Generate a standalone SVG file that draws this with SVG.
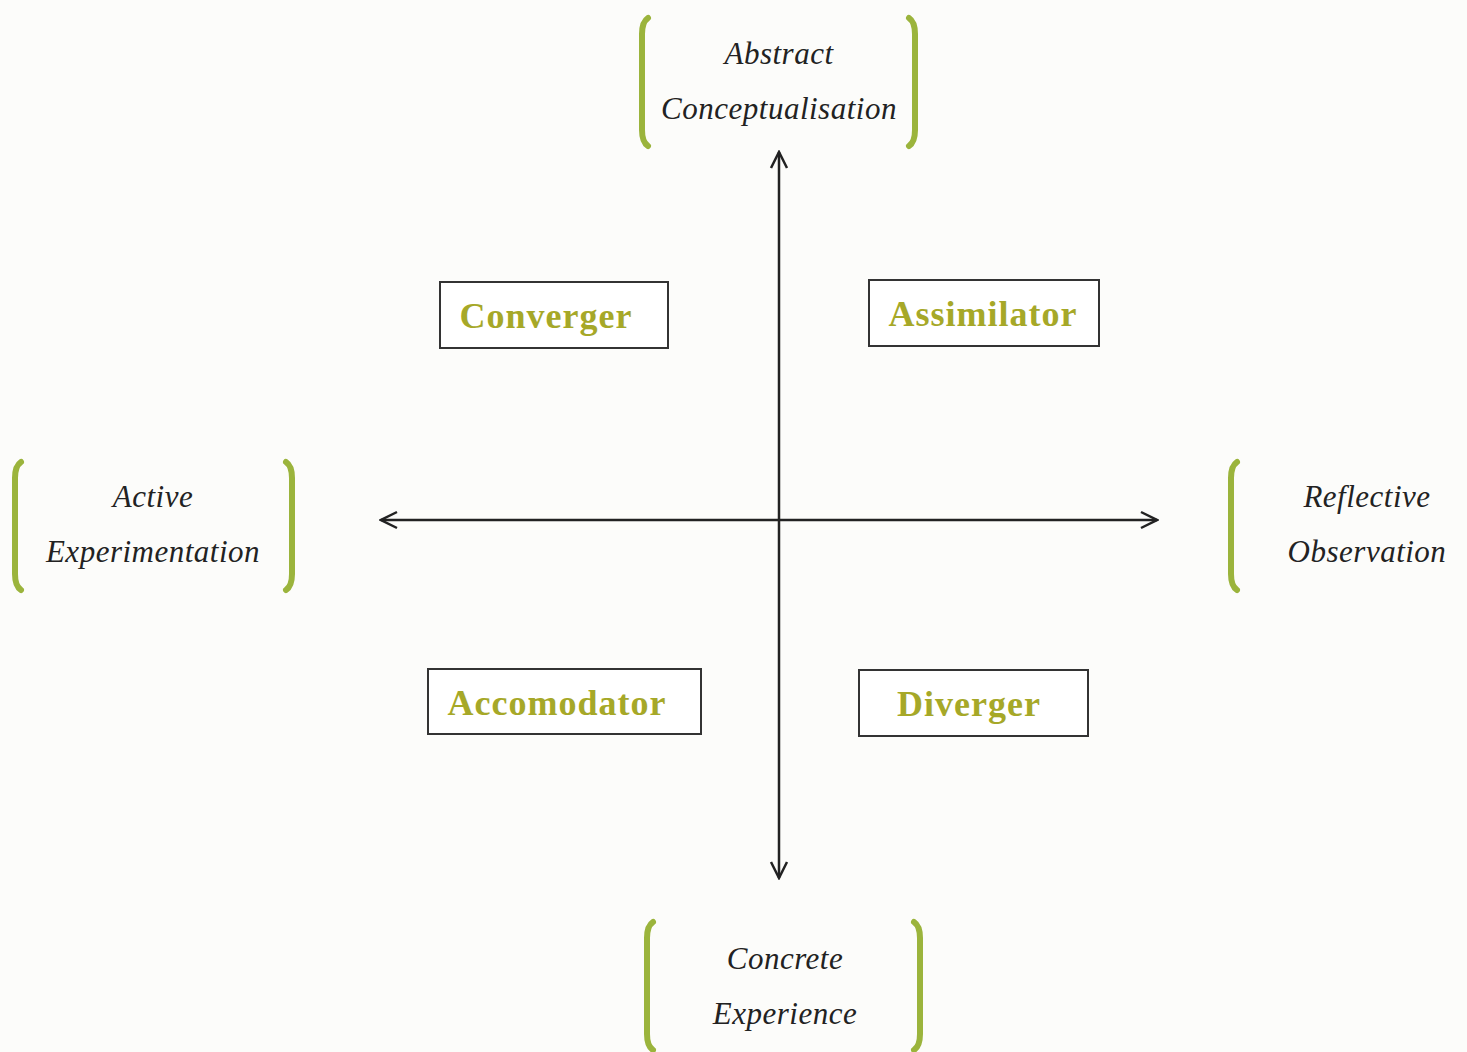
<svg xmlns="http://www.w3.org/2000/svg" width="1467" height="1052" viewBox="0 0 1467 1052">
<defs>
<style>
.br{fill:none;stroke:#9bb43c;stroke-width:6;stroke-linecap:round}
.lbl{font-family:"Liberation Serif",serif;font-style:italic;font-size:31px;letter-spacing:0.5px;fill:#222;text-anchor:middle}
.box{fill:#fff;stroke:#333;stroke-width:2}
.bt{font-family:"Liberation Serif",serif;font-weight:bold;font-size:36px;letter-spacing:1px;fill:#a6a828;text-anchor:middle}
.ax{fill:none;stroke:#222;stroke-width:2.5}
</style>
<marker id="ah" viewBox="0 0 20 20" refX="18" refY="10" markerWidth="20" markerHeight="20" markerUnits="userSpaceOnUse" orient="auto">
<path d="M2,2 L18,10 L2,18" fill="none" stroke="#222" stroke-width="2.5"/>
</marker>
</defs>
<rect width="1467" height="1052" fill="#fcfcfa"/>
<g id="connectors">
<line class="ax" x1="779" y1="520" x2="779" y2="152" marker-end="url(#ah)"/>
<line class="ax" x1="779" y1="520" x2="779" y2="878" marker-end="url(#ah)"/>
<line class="ax" x1="779" y1="520" x2="381" y2="520" marker-end="url(#ah)"/>
<line class="ax" x1="779" y1="520" x2="1157" y2="520" marker-end="url(#ah)"/>
</g>
<g id="abstract">
<path class="br" d="M648,18 Q642,22 642,34 L642,130 Q642,142 648,146"/>
<path class="br" d="M909,18 Q915,22 915,34 L915,130 Q915,142 909,146"/>
<text class="lbl" x="779" y="64">Abstract</text>
<text class="lbl" x="779" y="119">Conceptualisation</text>
</g>
<g id="active">
<path class="br" d="M21,462 Q15,466 15,478 L15,574 Q15,586 21,590"/>
<path class="br" d="M286,462 Q292,466 292,478 L292,574 Q292,586 286,590"/>
<text class="lbl" x="153" y="507">Active</text>
<text class="lbl" x="153" y="562">Experimentation</text>
</g>
<g id="reflective">
<path class="br" d="M1237,462 Q1231,466 1231,478 L1231,574 Q1231,586 1237,590"/>
<text class="lbl" x="1367" y="507">Reflective</text>
<text class="lbl" x="1367" y="562">Observation</text>
</g>
<g id="concrete">
<path class="br" d="M653,922 Q647,926 647,938 L647,1034 Q647,1046 653,1050"/>
<path class="br" d="M914,922 Q920,926 920,938 L920,1034 Q920,1046 914,1050"/>
<text class="lbl" x="785" y="969">Concrete</text>
<text class="lbl" x="785" y="1024">Experience</text>
</g>
<g id="converger">
<rect class="box" x="440" y="282" width="228" height="66"/>
<text class="bt" x="546" y="328">Converger</text>
</g>
<g id="assimilator">
<rect class="box" x="869" y="280" width="230" height="66"/>
<text class="bt" x="983" y="326">Assimilator</text>
</g>
<g id="accomodator">
<rect class="box" x="428" y="669" width="273" height="65"/>
<text class="bt" x="557" y="715">Accomodator</text>
</g>
<g id="diverger">
<rect class="box" x="859" y="670" width="229" height="66"/>
<text class="bt" x="969" y="716">Diverger</text>
</g>
</svg>
